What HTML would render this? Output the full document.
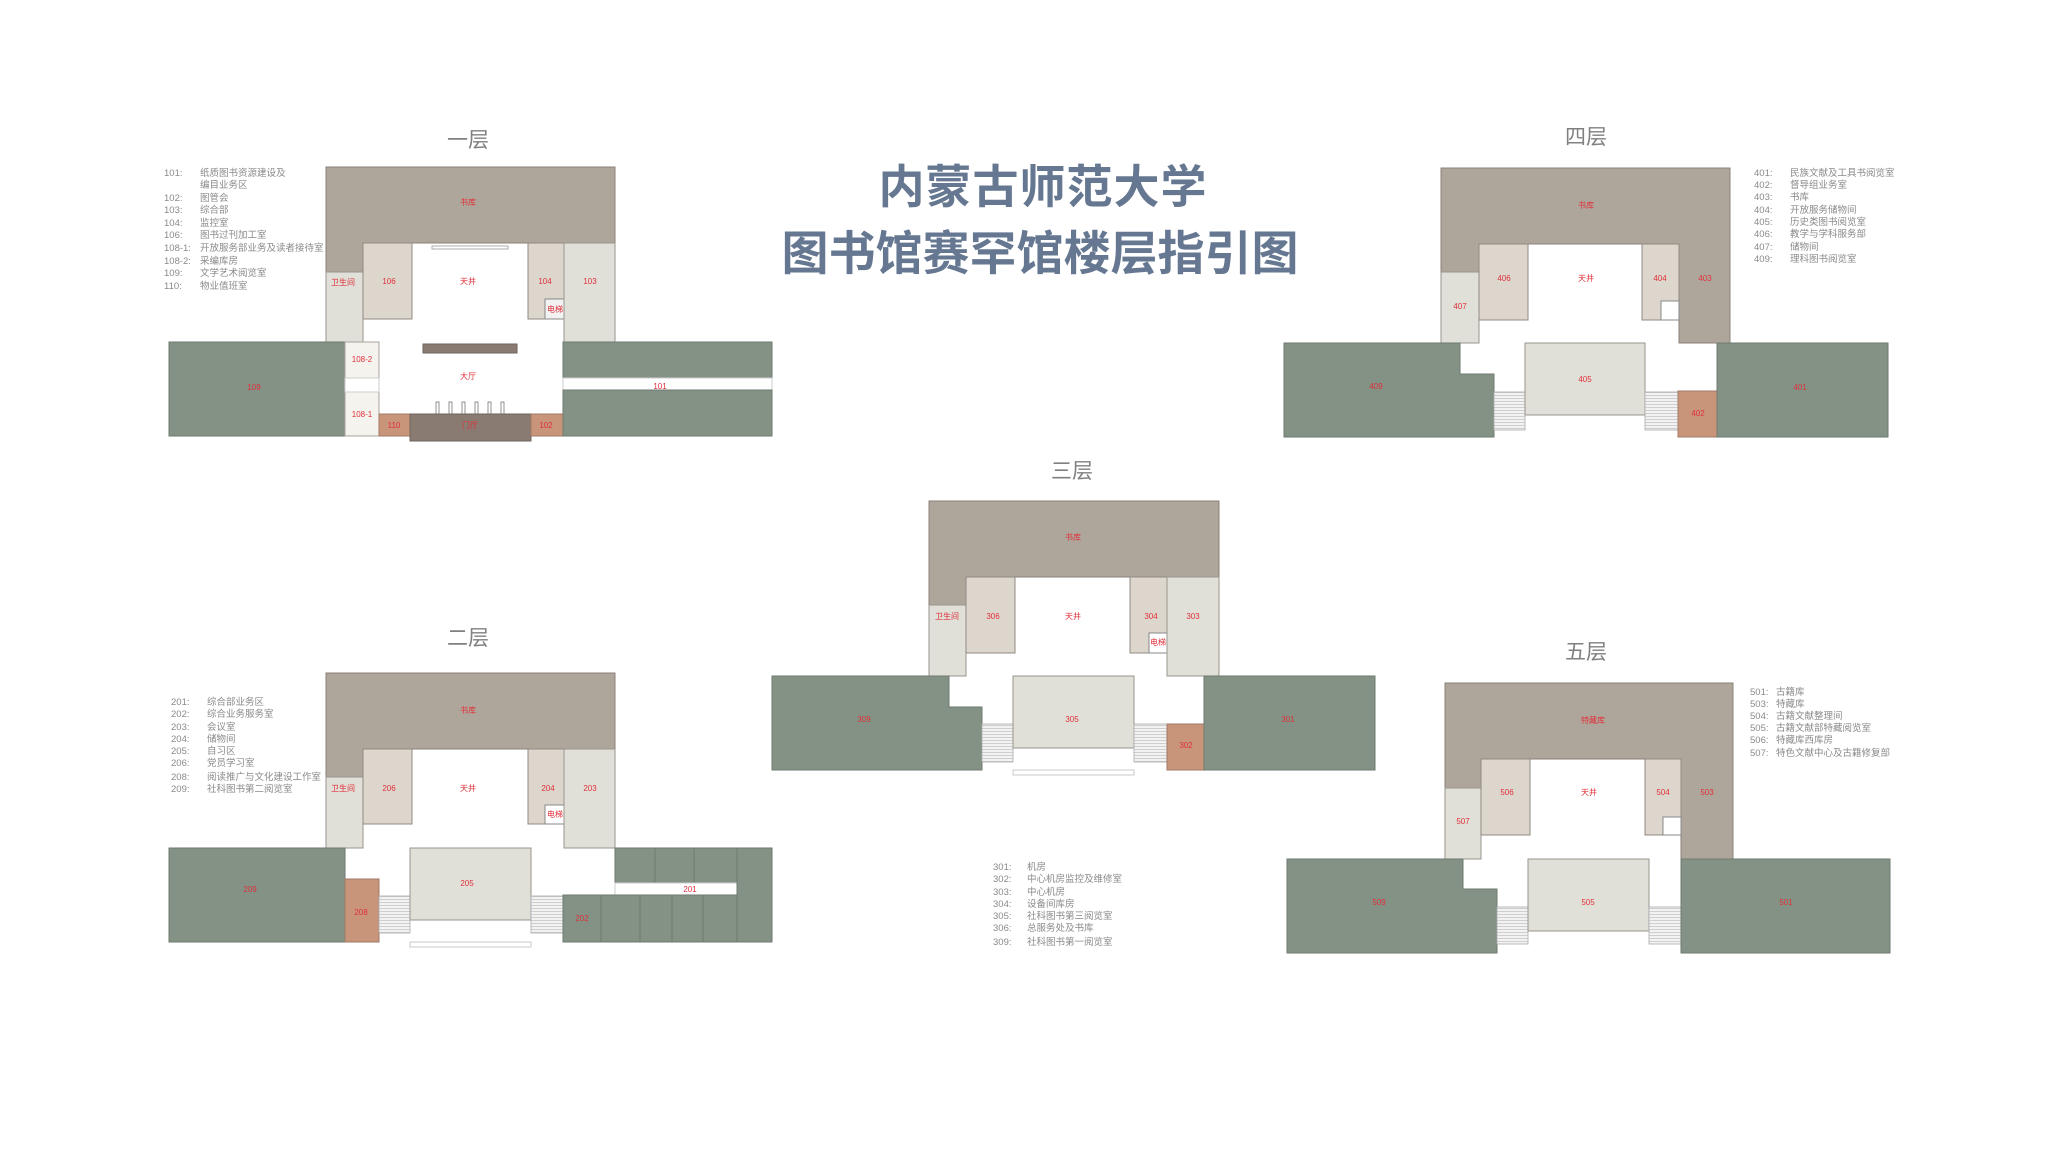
<!DOCTYPE html>
<html><head><meta charset="utf-8"><style>
html,body{margin:0;padding:0;background:#fff;}
svg{display:block}
.r{fill:#e0303a;font-size:8px;text-anchor:middle;dominant-baseline:middle;font-family:"Liberation Sans","Noto Sans CJK SC",sans-serif;}
.lg{fill:#8a8a8a;font-size:9.5px;font-family:"Liberation Sans","Noto Sans CJK SC",sans-serif;}
.ft{fill:#808080;font-size:21px;text-anchor:middle;font-family:"Noto Sans CJK SC",sans-serif;}
.sk{fill:#afa69b;stroke:#8a8078;stroke-width:1}
.gr{fill:#839285;stroke:#6f7a70;stroke-width:1}
.li{fill:#e0e0d8;stroke:#9a958e;stroke-width:1}
.be{fill:#ddd6cc;stroke:#8f8a83;stroke-width:1}
.br{fill:#c8957a;stroke:#a07a66;stroke-width:1}
.cr{fill:#f5f3ee;stroke:#a8a39c;stroke-width:1}
.wh{fill:#fff;stroke:#c8c8c8;stroke-width:1}
.st{fill:url(#stp);stroke:#aaa;stroke-width:0.8}
</style></head><body>
<svg width="2048" height="1152" viewBox="0 0 2048 1152" xmlns="http://www.w3.org/2000/svg">
<defs>
<pattern id="stp" width="8" height="3" patternUnits="userSpaceOnUse">
<rect width="8" height="3" fill="#f2f2f2"/><line x1="0" y1="2.5" x2="8" y2="2.5" stroke="#b8b8b8" stroke-width="0.6"/>
</pattern>
</defs>

<!-- Title -->
<text x="1043" y="203" text-anchor="middle" font-family="Noto Sans CJK SC,sans-serif" font-weight="bold" font-size="46" fill="#667891" letter-spacing="1">内蒙古师范大学</text>
<text x="1040" y="270" text-anchor="middle" font-family="Noto Sans CJK SC,sans-serif" font-weight="bold" font-size="47" fill="#667891" letter-spacing="0">图书馆赛罕馆楼层指引图</text>

<!-- ===== Floor 1 ===== -->
<text class="ft" x="468" y="147">一层</text>
<path class="sk" d="M326 167H615V243H363V272H326Z"/>
<rect class="li" x="326" y="272" width="37" height="70"/>
<rect class="be" x="363" y="243" width="49" height="76"/>
<rect class="be" x="528" y="243" width="36" height="76"/>
<rect x="545" y="299" width="19" height="20" fill="#f2f2f2" stroke="#888"/>
<rect class="li" x="564" y="243" width="51" height="99"/>
<rect x="432" y="246" width="76" height="3" fill="#fff" stroke="#999" stroke-width="0.8"/>
<rect class="gr" x="169" y="342" width="176" height="94"/>
<rect class="cr" x="345" y="342" width="34" height="36"/>
<rect class="cr" x="345" y="392" width="34" height="44"/>
<rect x="345" y="378" width="34" height="14" fill="#fff" stroke="#ccc"/>
<rect x="423" y="344" width="94" height="9" fill="#8a7b72" stroke="#6f635c"/>
<g fill="#fff" stroke="#777" stroke-width="0.8">
<rect x="436" y="402" width="3" height="12"/><rect x="449" y="402" width="3" height="12"/><rect x="462" y="402" width="3" height="12"/><rect x="475" y="402" width="3" height="12"/><rect x="488" y="402" width="3" height="12"/><rect x="501" y="402" width="3" height="12"/>
</g>
<rect class="br" x="379" y="414" width="31" height="22"/>
<rect x="410" y="414" width="121" height="27" fill="#8a7b72" stroke="#6f635c"/>
<rect class="br" x="531" y="414" width="32" height="22"/>
<rect class="gr" x="563" y="342" width="209" height="36"/>
<rect x="563" y="378" width="209" height="12" fill="#fff" stroke="#ccc"/>
<rect class="gr" x="563" y="390" width="209" height="46"/>
<text class="r" x="468" y="203">书库</text>
<text class="r" x="343" y="283">卫生间</text>
<text class="r" x="389" y="282">106</text>
<text class="r" x="468" y="282">天井</text>
<text class="r" x="545" y="282">104</text>
<text class="r" x="590" y="282">103</text>
<text class="r" x="555" y="310" font-size="7">电梯</text>
<text class="r" x="362" y="360">108-2</text>
<text class="r" x="362" y="415">108-1</text>
<text class="r" x="468" y="377">大厅</text>
<text class="r" x="254" y="388">109</text>
<text class="r" x="660" y="387">101</text>
<text class="r" x="394" y="426">110</text>
<text class="r" x="470" y="426">门厅</text>
<text class="r" x="546" y="426">102</text>
<g class="lg">
<text x="164" y="176">101:</text><text x="200" y="176">纸质图书资源建设及</text>
<text x="200" y="188">编目业务区</text>
<text x="164" y="201">102:</text><text x="200" y="201">图管会</text>
<text x="164" y="213">103:</text><text x="200" y="213">综合部</text>
<text x="164" y="226">104:</text><text x="200" y="226">监控室</text>
<text x="164" y="238">106:</text><text x="200" y="238">图书过刊加工室</text>
<text x="164" y="251">108-1:</text><text x="200" y="251">开放服务部业务及读者接待室</text>
<text x="164" y="264">108-2:</text><text x="200" y="264">采编库房</text>
<text x="164" y="276">109:</text><text x="200" y="276">文学艺术阅览室</text>
<text x="164" y="289">110:</text><text x="200" y="289">物业值班室</text>
</g>

<!-- ===== Floor 2 ===== -->
<text class="ft" x="468" y="645">二层</text>
<path class="sk" d="M326 673H615V749H363V777H326Z"/>
<rect class="li" x="326" y="777" width="37" height="71"/>
<rect class="be" x="363" y="749" width="49" height="75"/>
<rect class="be" x="528" y="749" width="36" height="75"/>
<rect x="545" y="805" width="19" height="19" fill="#fff" stroke="#888"/>
<rect class="li" x="564" y="749" width="51" height="99"/>
<rect class="gr" x="169" y="848" width="176" height="94"/>
<rect class="br" x="345" y="879" width="34" height="63"/>
<rect class="st" x="379" y="896" width="31" height="37"/>
<rect class="li" x="410" y="848" width="121" height="72"/>
<rect class="st" x="531" y="896" width="32" height="37"/>
<rect class="wh" x="410" y="942" width="121" height="5"/>
<rect class="gr" x="615" y="848" width="40" height="35"/>
<rect class="gr" x="655" y="848" width="39" height="35"/>
<rect class="gr" x="694" y="848" width="43" height="35"/>
<rect x="615" y="883" width="122" height="12" fill="#fff" stroke="#ccc"/>
<rect class="gr" x="737" y="848" width="35" height="94"/>
<rect class="gr" x="563" y="895" width="38" height="47"/>
<rect class="gr" x="601" y="895" width="39" height="47"/>
<rect class="gr" x="640" y="895" width="32" height="47"/>
<rect class="gr" x="672" y="895" width="31" height="47"/>
<rect class="gr" x="703" y="895" width="34" height="47"/>
<text class="r" x="468" y="711">书库</text>
<text class="r" x="343" y="789">卫生间</text>
<text class="r" x="389" y="789">206</text>
<text class="r" x="468" y="789">天井</text>
<text class="r" x="548" y="789">204</text>
<text class="r" x="590" y="789">203</text>
<text class="r" x="555" y="815" font-size="7">电梯</text>
<text class="r" x="250" y="890">209</text>
<text class="r" x="467" y="884">205</text>
<text class="r" x="361" y="913">208</text>
<text class="r" x="690" y="890">201</text>
<text class="r" x="582" y="919">202</text>
<g class="lg">
<text x="171" y="705">201:</text><text x="207" y="705">综合部业务区</text>
<text x="171" y="717">202:</text><text x="207" y="717">综合业务服务室</text>
<text x="171" y="730">203:</text><text x="207" y="730">会议室</text>
<text x="171" y="742">204:</text><text x="207" y="742">储物间</text>
<text x="171" y="754">205:</text><text x="207" y="754">自习区</text>
<text x="171" y="766">206:</text><text x="207" y="766">党员学习室</text>
<text x="171" y="780">208:</text><text x="207" y="780">阅读推广与文化建设工作室</text>
<text x="171" y="792">209:</text><text x="207" y="792">社科图书第二阅览室</text>
</g>

<!-- ===== Floor 3 ===== -->
<text class="ft" x="1072" y="478">三层</text>
<path class="sk" d="M929 501H1219V577H966V605H929Z"/>
<rect class="li" x="929" y="605" width="37" height="71"/>
<rect class="be" x="966" y="577" width="49" height="76"/>
<rect class="be" x="1130" y="577" width="37" height="76"/>
<rect x="1149" y="633" width="18" height="20" fill="#fff" stroke="#888"/>
<rect class="li" x="1167" y="577" width="52" height="99"/>
<path class="gr" d="M772 676H949V707H982V770H772Z"/>
<rect class="st" x="982" y="724" width="31" height="38"/>
<rect class="li" x="1013" y="676" width="121" height="72"/>
<rect class="st" x="1134" y="724" width="33" height="38"/>
<rect class="wh" x="1013" y="770" width="121" height="5"/>
<rect class="br" x="1167" y="724" width="37" height="46"/>
<rect class="gr" x="1204" y="676" width="171" height="94"/>
<text class="r" x="1073" y="538">书库</text>
<text class="r" x="947" y="617">卫生间</text>
<text class="r" x="993" y="617">306</text>
<text class="r" x="1073" y="617">天井</text>
<text class="r" x="1151" y="617">304</text>
<text class="r" x="1193" y="617">303</text>
<text class="r" x="1158" y="643" font-size="7">电梯</text>
<text class="r" x="864" y="720">309</text>
<text class="r" x="1072" y="720">305</text>
<text class="r" x="1288" y="720">301</text>
<text class="r" x="1186" y="746">302</text>
<g class="lg">
<text x="993" y="870">301:</text><text x="1027" y="870">机房</text>
<text x="993" y="882">302:</text><text x="1027" y="882">中心机房监控及维修室</text>
<text x="993" y="895">303:</text><text x="1027" y="895">中心机房</text>
<text x="993" y="907">304:</text><text x="1027" y="907">设备间库房</text>
<text x="993" y="919">305:</text><text x="1027" y="919">社科图书第三阅览室</text>
<text x="993" y="931">306:</text><text x="1027" y="931">总服务处及书库</text>
<text x="993" y="945">309:</text><text x="1027" y="945">社科图书第一阅览室</text>
</g>

<!-- ===== Floor 4 ===== -->
<text class="ft" x="1586" y="144">四层</text>
<path class="sk" d="M1441 168H1730V343H1679V244H1479V272H1441Z"/>
<rect class="li" x="1441" y="272" width="38" height="71"/>
<rect class="be" x="1479" y="244" width="49" height="76"/>
<rect class="be" x="1642" y="244" width="37" height="76"/>
<rect x="1661" y="301" width="18" height="19" fill="#fff" stroke="#888"/>
<path class="gr" d="M1284 343H1460V374H1494V437H1284Z"/>
<rect class="st" x="1494" y="392" width="31" height="38"/>
<rect class="li" x="1525" y="343" width="120" height="72"/>
<rect class="st" x="1645" y="392" width="33" height="38"/>
<rect class="br" x="1678" y="391" width="39" height="46"/>
<rect class="gr" x="1717" y="343" width="171" height="94"/>
<text class="r" x="1586" y="206">书库</text>
<text class="r" x="1504" y="279">406</text>
<text class="r" x="1586" y="279">天井</text>
<text class="r" x="1660" y="279">404</text>
<text class="r" x="1705" y="279">403</text>
<text class="r" x="1460" y="307">407</text>
<text class="r" x="1376" y="387">409</text>
<text class="r" x="1585" y="380">405</text>
<text class="r" x="1800" y="388">401</text>
<text class="r" x="1698" y="414">402</text>
<g class="lg">
<text x="1754" y="176">401:</text><text x="1790" y="176">民族文献及工具书阅览室</text>
<text x="1754" y="188">402:</text><text x="1790" y="188">督导组业务室</text>
<text x="1754" y="200">403:</text><text x="1790" y="200">书库</text>
<text x="1754" y="213">404:</text><text x="1790" y="213">开放服务储物间</text>
<text x="1754" y="225">405:</text><text x="1790" y="225">历史类图书阅览室</text>
<text x="1754" y="237">406:</text><text x="1790" y="237">教学与学科服务部</text>
<text x="1754" y="250">407:</text><text x="1790" y="250">储物间</text>
<text x="1754" y="262">409:</text><text x="1790" y="262">理科图书阅览室</text>
</g>

<!-- ===== Floor 5 ===== -->
<text class="ft" x="1586" y="659">五层</text>
<path class="sk" d="M1445 683H1733V859H1681V759H1481V788H1445Z"/>
<rect class="li" x="1445" y="788" width="36" height="71"/>
<rect class="be" x="1481" y="759" width="49" height="76"/>
<rect class="be" x="1645" y="759" width="36" height="76"/>
<rect x="1663" y="817" width="18" height="18" fill="#fff" stroke="#888"/>
<path class="gr" d="M1287 859H1463V889H1497V953H1287Z"/>
<rect class="st" x="1497" y="907" width="31" height="37"/>
<rect class="li" x="1528" y="859" width="121" height="72"/>
<rect class="st" x="1649" y="907" width="32" height="37"/>
<rect class="gr" x="1681" y="859" width="209" height="94"/>
<text class="r" x="1593" y="721">特藏库</text>
<text class="r" x="1507" y="793">506</text>
<text class="r" x="1589" y="793">天井</text>
<text class="r" x="1663" y="793">504</text>
<text class="r" x="1707" y="793">503</text>
<text class="r" x="1463" y="822">507</text>
<text class="r" x="1379" y="903">509</text>
<text class="r" x="1588" y="903">505</text>
<text class="r" x="1786" y="903">501</text>
<g class="lg">
<text x="1750" y="695">501:</text><text x="1776" y="695">古籍库</text>
<text x="1750" y="707">503:</text><text x="1776" y="707">特藏库</text>
<text x="1750" y="719">504:</text><text x="1776" y="719">古籍文献整理间</text>
<text x="1750" y="731">505:</text><text x="1776" y="731">古籍文献部特藏阅览室</text>
<text x="1750" y="743">506:</text><text x="1776" y="743">特藏库西库房</text>
<text x="1750" y="756">507:</text><text x="1776" y="756">特色文献中心及古籍修复部</text>
</g>
</svg>
</body></html>
